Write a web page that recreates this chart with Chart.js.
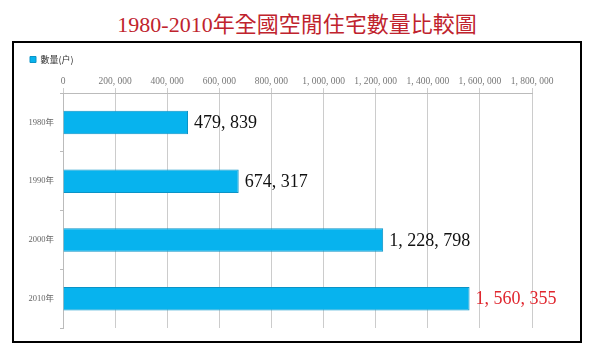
<!DOCTYPE html>
<html>
<head>
<meta charset="utf-8">
<script src="https://cdn.jsdelivr.net/npm/chart.js@4/dist/chart.umd.min.js"></script>
<style>
  body { margin: 0; background: #fff; width: 602px; height: 353px; position: relative; overflow: hidden; }
  #title {
    position: absolute; left: 0; top: 10px; width: 594px; height: 30px; line-height: 30px;
    text-align: center; color: #c0232d; font-size: 22px;
    font-family: "Liberation Serif", "Noto Sans CJK TC", serif;
  }
  #box {
    position: absolute; left: 12px; top: 41px; width: 570px; height: 302px;
    box-sizing: border-box; border: 2px solid #000; background: #fff;
  }
  #box canvas { display: block; }
</style>
</head>
<body>
<div id="title">1980-2010年全國空閒住宅數量比較圖</div>
<div id="box"><canvas id="chart" width="566" height="298"></canvas></div>
<script>
const years       = ['1980年', '1990年', '2000年', '2010年']
const vacantUnits = [479839, 674317, 1228798, 1560355]
const seriesName  = '數量(户)'
const axisMax     = 1800000
const axisStep    = 200000

const fmt = n => n.toLocaleString('en-US').replace(/,/g, ', ')

const valueLabels = {
  id: 'valueLabels',
  afterDatasetsDraw(chart) {
    const ctx  = chart.ctx
    const meta = chart.getDatasetMeta(0)
    ctx.save()
    ctx.font = '18px "Liberation Serif", serif'
    ctx.textBaseline = 'middle'
    ctx.textAlign = 'left'
    meta.data.forEach((bar, i) => {
      // the last year is highlighted in red
      ctx.fillStyle = i === meta.data.length - 1 ? '#e0262e' : '#111'
      ctx.fillText(fmt(vacantUnits[i]), bar.x + 6, bar.y + 1)
    })
    ctx.restore()
  }
}

new Chart(document.getElementById('chart'), {
  type: 'bar',
  data: {
    labels: years,
    datasets: [{
      label:              seriesName,
      data:               vacantUnits,
      backgroundColor:    '#07b3ee',
      borderColor:        '#0b93c6',
      borderWidth:        1,
      barPercentage:      0.4,
      categoryPercentage: 1,
    }],
  },
  options: {
    indexAxis:  'y',
    responsive: false,
    animation:  false,
    layout: { padding: { left: 12, top: 8, right: 48, bottom: 13 } },
    plugins: {
      legend: {
        position: 'top',
        align:    'start',
        labels: {
          boxWidth: 6, boxHeight: 6, padding: 4, color: '#333',
          font: { size: 9, family: '"Noto Sans CJK TC", sans-serif' },
        },
      },
      tooltip: { enabled: false },
    },
    scales: {
      x: {
        position: 'top',
        min: 0, max: axisMax,
        afterFit: s => { s.height = 19 },
        ticks: {
          stepSize: axisStep, autoSkip: false, maxRotation: 0, padding: 1,
          color: '#777', font: { size: 9.5, family: '"Liberation Serif", serif' },
          callback: v => fmt(v),
        },
        grid:   { color: '#cccccc', tickLength: 5, tickColor: '#cccccc' },
        border: { color: '#bbbbbb' },
      },
      y: {
        afterFit: s => { s.width = 37 },
        ticks: {
          color: '#666', padding: 6,
          font: { size: 8.5, family: '"Liberation Serif", "Noto Sans CJK TC", serif' },
        },
        grid:   { drawOnChartArea: false, offset: true, tickLength: 3, color: '#bbbbbb' },
        border: { color: '#bbbbbb' },
      },
    },
  },
  plugins: [valueLabels],
})
</script>
</body>
</html>
